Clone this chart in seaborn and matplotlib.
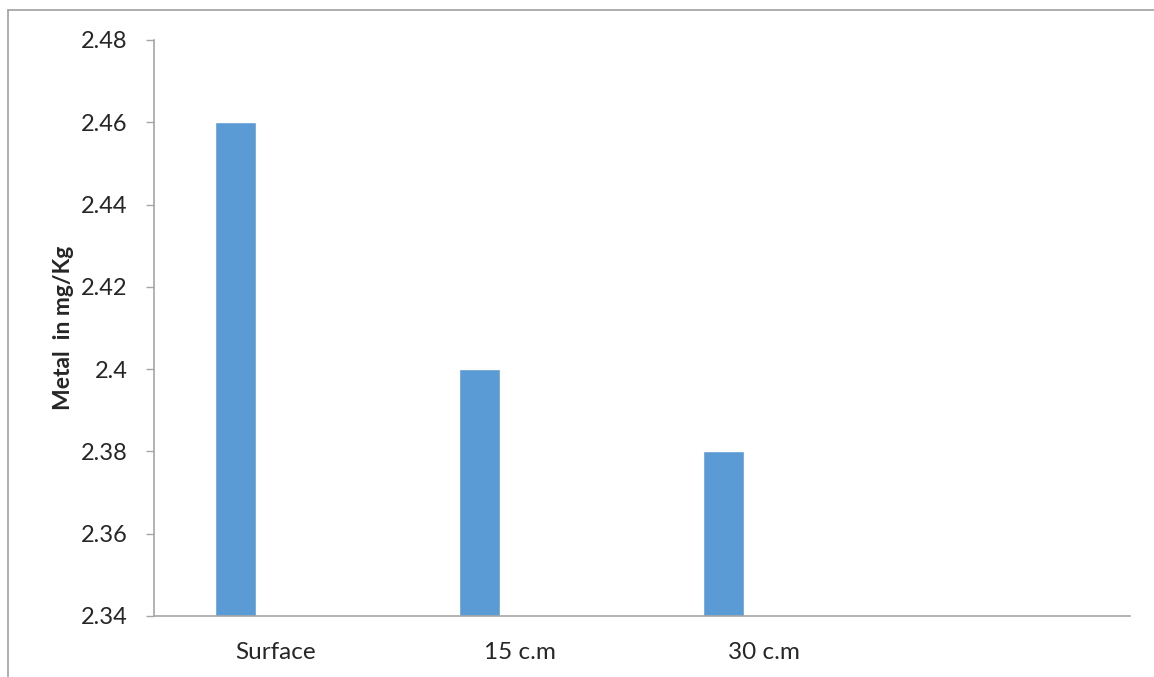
import numpy as np
import pandas as pd
from matplotlib import pyplot as plt
from matplotlib.lines import Line2D
from matplotlib.ticker import FuncFormatter

import seaborn as sns

depths = ["Surface", "15 c.m", "30 c.m", ""]
metal = [2.46, 2.40, 2.38, np.nan]
series_names = ["Metal", "s2", "s3"]

y_ticks = [2.34, 2.36, 2.38, 2.40, 2.42, 2.44, 2.46, 2.48]


def build_frame():
    rows = []
    for depth, value in zip(depths, metal):
        rows.append({"depth": depth, "series": series_names[0], "value": value})
        for name in series_names[1:]:
            rows.append({"depth": depth, "series": name, "value": np.nan})
    return pd.DataFrame(rows)


sns.set_style("white")
plt.rcParams['font.family'] = ['Lato', 'DejaVu Sans']

fig = plt.figure(figsize=(11.54, 6.77), dpi=100)
ax = fig.add_axes([154 / 1154, 1 - 616 / 677, (1130 - 154) / 1154, (616 - 40) / 677])

data = build_frame()
sns.barplot(data=data, x="depth", y="value", hue="series",
            order=depths, hue_order=series_names, width=0.5, gap=0,
            palette=["#5B9BD5"] * 3, saturation=1,
            legend=False, ax=ax, errorbar=None)

ax.set_xlim(-0.5, len(depths) - 0.5)
ax.set_ylim(y_ticks[0], y_ticks[-1])
ax.set_yticks(y_ticks)
ax.yaxis.set_major_formatter(FuncFormatter(lambda v, p: "%g" % round(v, 2)))

ax.set_xlabel("")
ax.set_ylabel("Metal  in mg/Kg", fontsize=16.5, fontweight="bold", labelpad=5)

axis_grey = "#a6a6a6"
sns.despine(ax=ax, top=True, right=True)
for side in ["left", "bottom"]:
    ax.spines[side].set_color(axis_grey)
    ax.spines[side].set_linewidth(1.2)

ax.tick_params(axis="y", which="both", left=True, length=6, width=1,
               color=axis_grey, labelsize=17, pad=13)
ax.tick_params(axis="x", bottom=False, labelsize=17.5, pad=15)

# outer chart border (top and left edges visible)
fig.add_artist(Line2D([8 / 1154, 1.0], [1 - 10 / 677, 1 - 10 / 677],
                      transform=fig.transFigure, color="#a0a0a0", lw=1.2))
fig.add_artist(Line2D([8 / 1154, 8 / 1154], [0.0, 1 - 10 / 677],
                      transform=fig.transFigure, color="#a0a0a0", lw=1.2))

plt.savefig("out.png", dpi=100)
